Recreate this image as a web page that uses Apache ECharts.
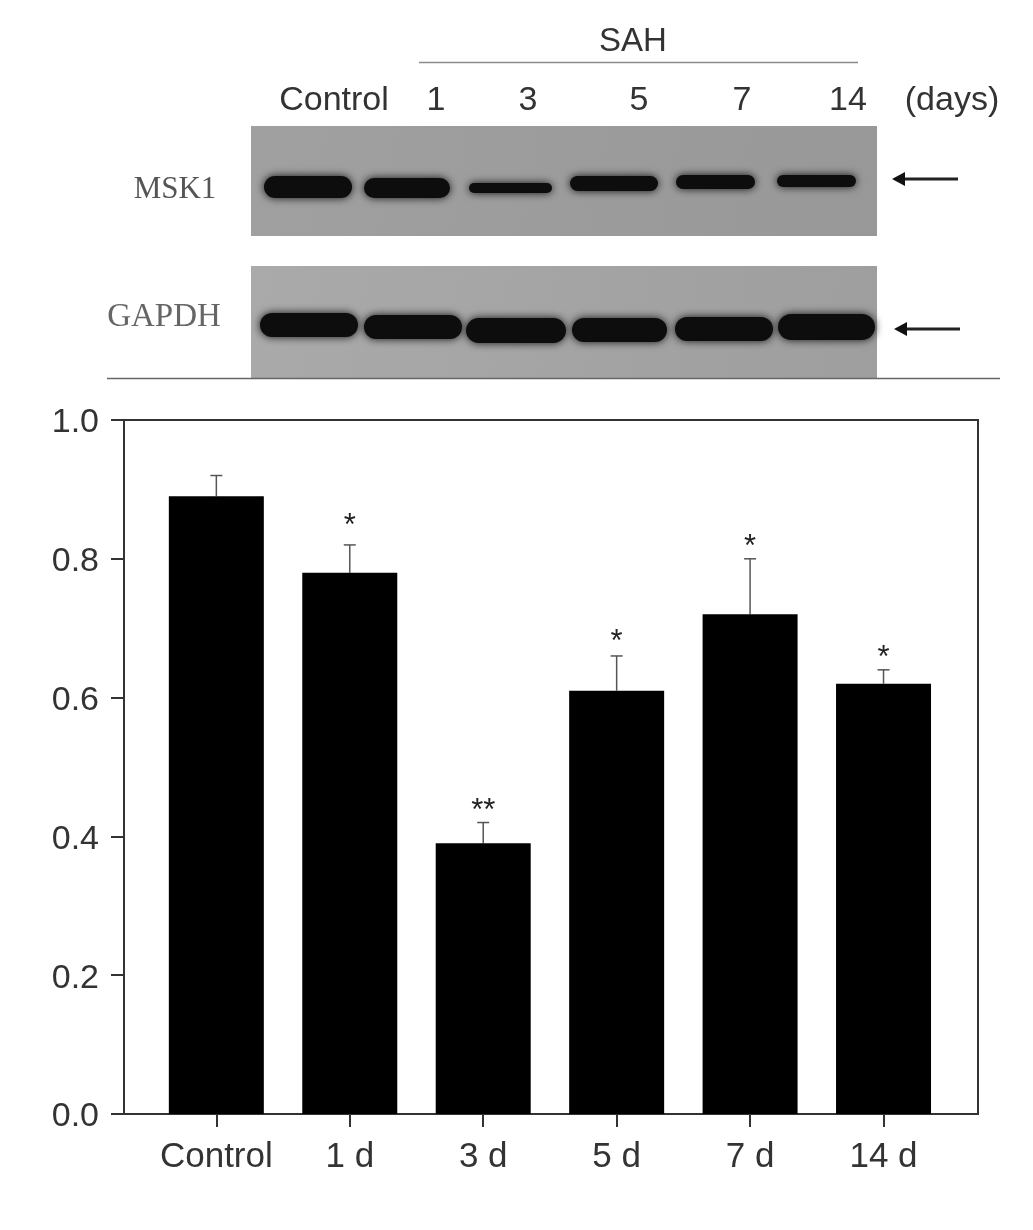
<!DOCTYPE html>
<html>
<head>
<meta charset="utf-8">
<style>
  html, body { margin: 0; padding: 0; background: #fff; }
  #chart { width: 1033px; height: 1230px; }
</style>
<script src="https://cdn.jsdelivr.net/npm/echarts@6/dist/echarts.min.js"></script>
</head>
<body>
<div id="chart"></div>
<script>
// chart data
const categories = ["Control", "1 d", "3 d", "5 d", "7 d", "14 d"];
const means = [0.89, 0.78, 0.39, 0.61, 0.72, 0.62];
const errTops = [0.92, 0.82, 0.42, 0.66, 0.8, 0.64];
const stars = ["", "*", "**", "*", "*", "*"];
const starLevels = [null, 0.854, 0.443, 0.686, 0.824, 0.664];

const FONT = '"Liberation Sans", Arial, sans-serif';
const SERIF = '"Liberation Serif", "Times New Roman", serif';
const INK = "#333";

// blot picture above the chart: [left, right, top, bottom]
const mskBands = [
  [264, 352, 176, 198], [364, 450, 178, 198], [469, 552, 183, 193],
  [570, 658, 176, 191], [676, 755, 175, 189], [777, 856, 175, 187]
];
const gapdhBands = [
  [260, 358, 313, 337], [364, 462, 315, 339], [466, 566, 318, 343],
  [572, 667, 318, 342], [675, 773, 317, 341], [778, 875, 314, 340]
];
const laneLabels = [
  ["Control", 334], ["1", 436], ["3", 528], ["5", 639], ["7", 742], ["14", 848], ["(days)", 952]
];

function panel(y, h, light, dark) {
  return {
    type: "rect",
    shape: { x: 251, y: y, width: 626, height: h },
    style: {
      fill: new echarts.graphic.LinearGradient(0, 0, 1, 1, [
        { offset: 0, color: light },
        { offset: 1, color: dark }
      ])
    }
  };
}

function band(b) {
  return {
    type: "rect",
    shape: { x: b[0], y: b[2], width: b[1] - b[0], height: b[3] - b[2], r: (b[3] - b[2]) / 2 },
    style: { fill: "#0d0d0d", shadowBlur: 8, shadowColor: "#111" }
  };
}

function label(text, x, y, size, opts) {
  return {
    type: "text",
    x: x,
    y: y,
    style: Object.assign({
      text: text,
      fill: INK,
      font: size + "px " + FONT,
      textAlign: "center",
      textVerticalAlign: "middle"
    }, opts || {})
  };
}

function arrow(x1, x2, y) {
  return {
    type: "group",
    children: [
      {
        type: "line",
        shape: { x1: x1 + 8, y1: y, x2: x2, y2: y },
        style: { stroke: "#222", lineWidth: 3 }
      },
      {
        type: "polygon",
        shape: { points: [[x1, y], [x1 + 13, y - 7], [x1 + 13, y + 7]] },
        style: { fill: "#111" }
      }
    ]
  };
}

const blot = [
  panel(126, 110, "#a0a0a0", "#989898"),
  panel(266, 112, "#aaaaaa", "#9e9e9e")
]
  .concat(mskBands.map(band))
  .concat(gapdhBands.map(band))
  .concat(laneLabels.map((l) => label(l[0], l[1], 100.5, 34)))
  .concat([
    label("SAH", 633, 42, 33),
    label("MSK1", 175, 190, 31, { font: "31px " + SERIF, fill: "#555" }),
    label("GAPDH", 164, 317, 33, { font: "33px " + SERIF, fill: "#666" }),
    {
      type: "line",
      shape: { x1: 419, y1: 62.5, x2: 858, y2: 62.5 },
      style: { stroke: "#8a8a8a", lineWidth: 1.5 }
    },
    {
      type: "line",
      shape: { x1: 107, y1: 378.5, x2: 1000, y2: 378.5 },
      style: { stroke: "#666", lineWidth: 1.5 }
    },
    arrow(892, 958, 179),
    arrow(894, 960, 329)
  ]);

const positions = categories.map((c, i) => i);

const chart = echarts.init(document.getElementById("chart"));
chart.setOption({
  animation: false,
  backgroundColor: "#fff",
  graphic: blot,
  grid: {
    left: 124,
    right: 55,
    top: 420,
    bottom: 116,
    show: true,
    borderColor: INK,
    borderWidth: 2,
    containLabel: false
  },
  xAxis: {
    type: "value",
    min: -0.692,
    max: 5.708,
    splitLine: { show: false },
    axisLine: { show: true, onZero: false, lineStyle: { color: INK, width: 2 } },
    axisTick: { show: true, length: 13, customValues: positions, lineStyle: { color: INK, width: 2 } },
    axisLabel: {
      customValues: positions,
      formatter: (v) => categories[v],
      margin: 26,
      fontFamily: FONT,
      fontSize: 35,
      color: INK
    }
  },
  yAxis: {
    type: "value",
    min: 0,
    max: 1,
    interval: 0.2,
    splitLine: { show: false },
    axisLine: { show: true, onZero: false, lineStyle: { color: INK, width: 2 } },
    axisTick: { show: true, length: 13, lineStyle: { color: INK, width: 2 } },
    axisLabel: {
      formatter: (v) => v.toFixed(1),
      margin: 25,
      verticalAlign: "top",
      lineHeight: 6,
      fontFamily: FONT,
      fontSize: 34,
      color: INK
    }
  },
  series: [
    {
      type: "bar",
      barWidth: 95,
      itemStyle: { color: "#000" },
      data: means.map((v, i) => [i, v]),
      z: 3
    },
    {
      // error bars, upper side only
      type: "custom",
      z: 2,
      data: means.map((v, i) => [i, v, errTops[i]]),
      renderItem: function (params, api) {
        const base = api.coord([api.value(0), api.value(1)]);
        const top = api.coord([api.value(0), api.value(2)]);
        const style = { stroke: "#555", lineWidth: 1.5, fill: null };
        return {
          type: "group",
          children: [
            { type: "line", shape: { x1: base[0], y1: base[1], x2: top[0], y2: top[1] }, style: style },
            { type: "line", shape: { x1: top[0] - 6, y1: top[1], x2: top[0] + 6, y2: top[1] }, style: style }
          ]
        };
      }
    },
    {
      // significance stars
      type: "custom",
      z: 4,
      data: stars.map((s, i) => [i, starLevels[i]]).filter((d) => d[1] !== null),
      renderItem: function (params, api) {
        const i = api.value(0);
        const p = api.coord([i, api.value(1)]);
        return {
          type: "text",
          x: p[0],
          y: p[1] + 5,
          style: {
            text: stars[i],
            fill: "#222",
            font: "31px " + FONT,
            textAlign: "center",
            textVerticalAlign: "middle"
          }
        };
      }
    }
  ]
});
</script>
</body>
</html>
